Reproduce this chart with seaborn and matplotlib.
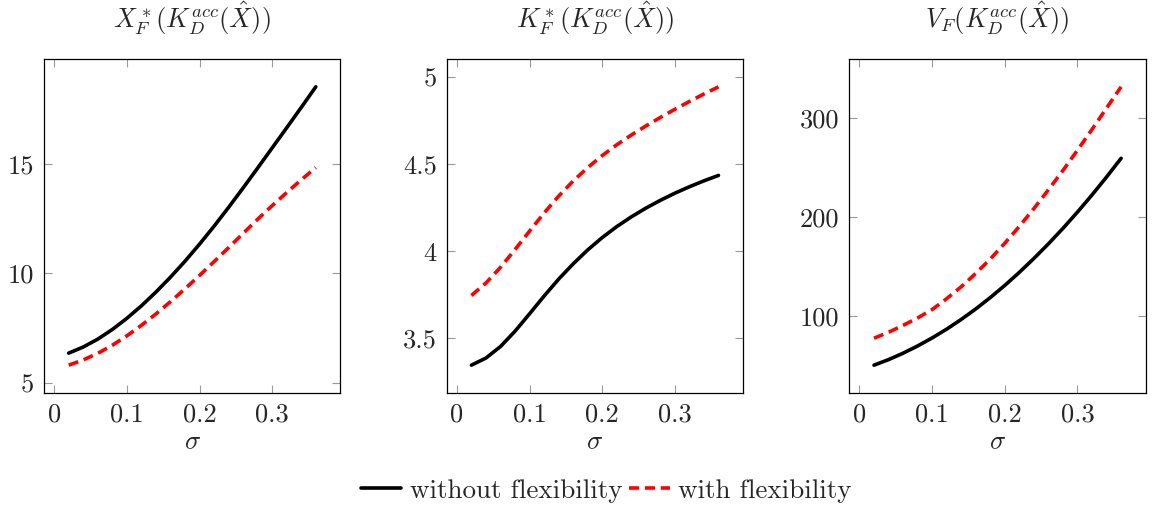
import matplotlib
matplotlib.use("Agg")
import matplotlib.pyplot as plt
import seaborn as sns

# ---- data ----
sigma = [0.02, 0.04, 0.06, 0.08, 0.10, 0.12, 0.14, 0.16, 0.18, 0.20,
         0.22, 0.24, 0.26, 0.28, 0.30, 0.32, 0.34, 0.36]

xf_without = [6.35, 6.63, 6.99, 7.43, 7.94, 8.51, 9.14, 9.82, 10.55, 11.33,
              12.15, 13.01, 13.90, 14.81, 15.73, 16.65, 17.58, 18.52]
xf_with = [5.8, 6.04, 6.34, 6.71, 7.14, 7.62, 8.14, 8.70, 9.29, 9.90,
           10.53, 11.17, 11.82, 12.47, 13.09, 13.69, 14.27, 14.83]

kf_without = [3.345, 3.386, 3.452, 3.540, 3.640, 3.742, 3.839, 3.927, 4.007, 4.078,
              4.141, 4.197, 4.247, 4.292, 4.333, 4.370, 4.404, 4.435]
kf_with = [3.745, 3.817, 3.907, 4.009, 4.115, 4.219, 4.316, 4.403, 4.480, 4.549,
           4.611, 4.667, 4.719, 4.768, 4.815, 4.860, 4.903, 4.944]

vf_without = [50.5, 56.1, 62.6, 69.9, 78.0, 86.9, 96.7, 107.3, 118.8, 131.1,
              144.3, 158.3, 173.1, 188.7, 205.2, 222.5, 240.6, 259.5]
vf_with = [77.7, 83.7, 90.7, 98.2, 106.7, 117.7, 129.7, 143.2, 157.7, 173.7,
           190.7, 208.7, 227.7, 247.2, 267.7, 288.7, 310.2, 331.7]

titles = [r"$X^*_F(K^{acc}_D(\hat{X}))$",
          r"$K^*_F(K^{acc}_D(\hat{X}))$",
          r"$V_F(K^{acc}_D(\hat{X}))$"]
x_ticks = [0, 0.1, 0.2, 0.3]
x_ticklabels = ["0", "0.1", "0.2", "0.3"]
y_ticks = [[5, 10, 15], [3.5, 4, 4.5, 5], [100, 200, 300]]
y_ticklabels = [["5", "10", "15"], ["3.5", "4", "4.5", "5"], ["100", "200", "300"]]
series_labels = ["without flexibility", "with flexibility"]

# ---- style ----
sns.set_theme(style="white")
plt.rcParams["font.family"] = "serif"
plt.rcParams["font.serif"] = ["cmr10", "DejaVu Serif"]
plt.rcParams["mathtext.fontset"] = "cm"
plt.rcParams["axes.formatter.use_mathtext"] = True
plt.rcParams["axes.unicode_minus"] = False

FS = 19
fig = plt.figure(figsize=(11.52, 5.09), dpi=100)
W, H = 1152, 509
lefts = [44, 446.7, 849.3]
width = 296.5
top, bottom = 59, 393

data = [(xf_without, xf_with), (kf_without, kf_with), (vf_without, vf_with)]
handles = None
for i in range(3):
    ax = fig.add_axes([lefts[i] / W, 1 - bottom / H, width / W, (bottom - top) / H])
    a, b = data[i]
    sns.lineplot(x=sigma, y=a, ax=ax, color="black", linewidth=2.6,
                 label=series_labels[0], legend=False)
    sns.lineplot(x=sigma, y=b, ax=ax, color="#ff0000", linewidth=2.6,
                 linestyle=(0, (2.8, 1.6)), label=series_labels[1], legend=False)
    ax.margins(x=0.1, y=0.1)
    ax.set_xticks(x_ticks)
    ax.set_xticklabels(x_ticklabels)
    ax.set_yticks(y_ticks[i])
    ax.set_yticklabels(y_ticklabels[i])
    ax.tick_params(axis="both", which="major", direction="in", length=6,
                   width=0.8, color="#999999", labelsize=FS, pad=7,
                   top=True, right=True, bottom=True, left=True)
    for sp in ax.spines.values():
        sp.set_color("black")
        sp.set_linewidth(0.9)
    ax.set_title(titles[i], fontsize=FS, pad=22)
    ax.set_xlabel(r"$\sigma$", fontsize=FS, labelpad=3)
    ax.set_ylabel("")
    if handles is None:
        handles = ax.get_lines()[:2]

fig.legend(handles, series_labels, loc="center",
           bbox_to_anchor=(606 / W, 1 - 491 / H), ncol=2, frameon=False,
           fontsize=19.5, handlelength=1.5, handletextpad=0.3, columnspacing=0.25)

fig.savefig("out.png", dpi=100)
